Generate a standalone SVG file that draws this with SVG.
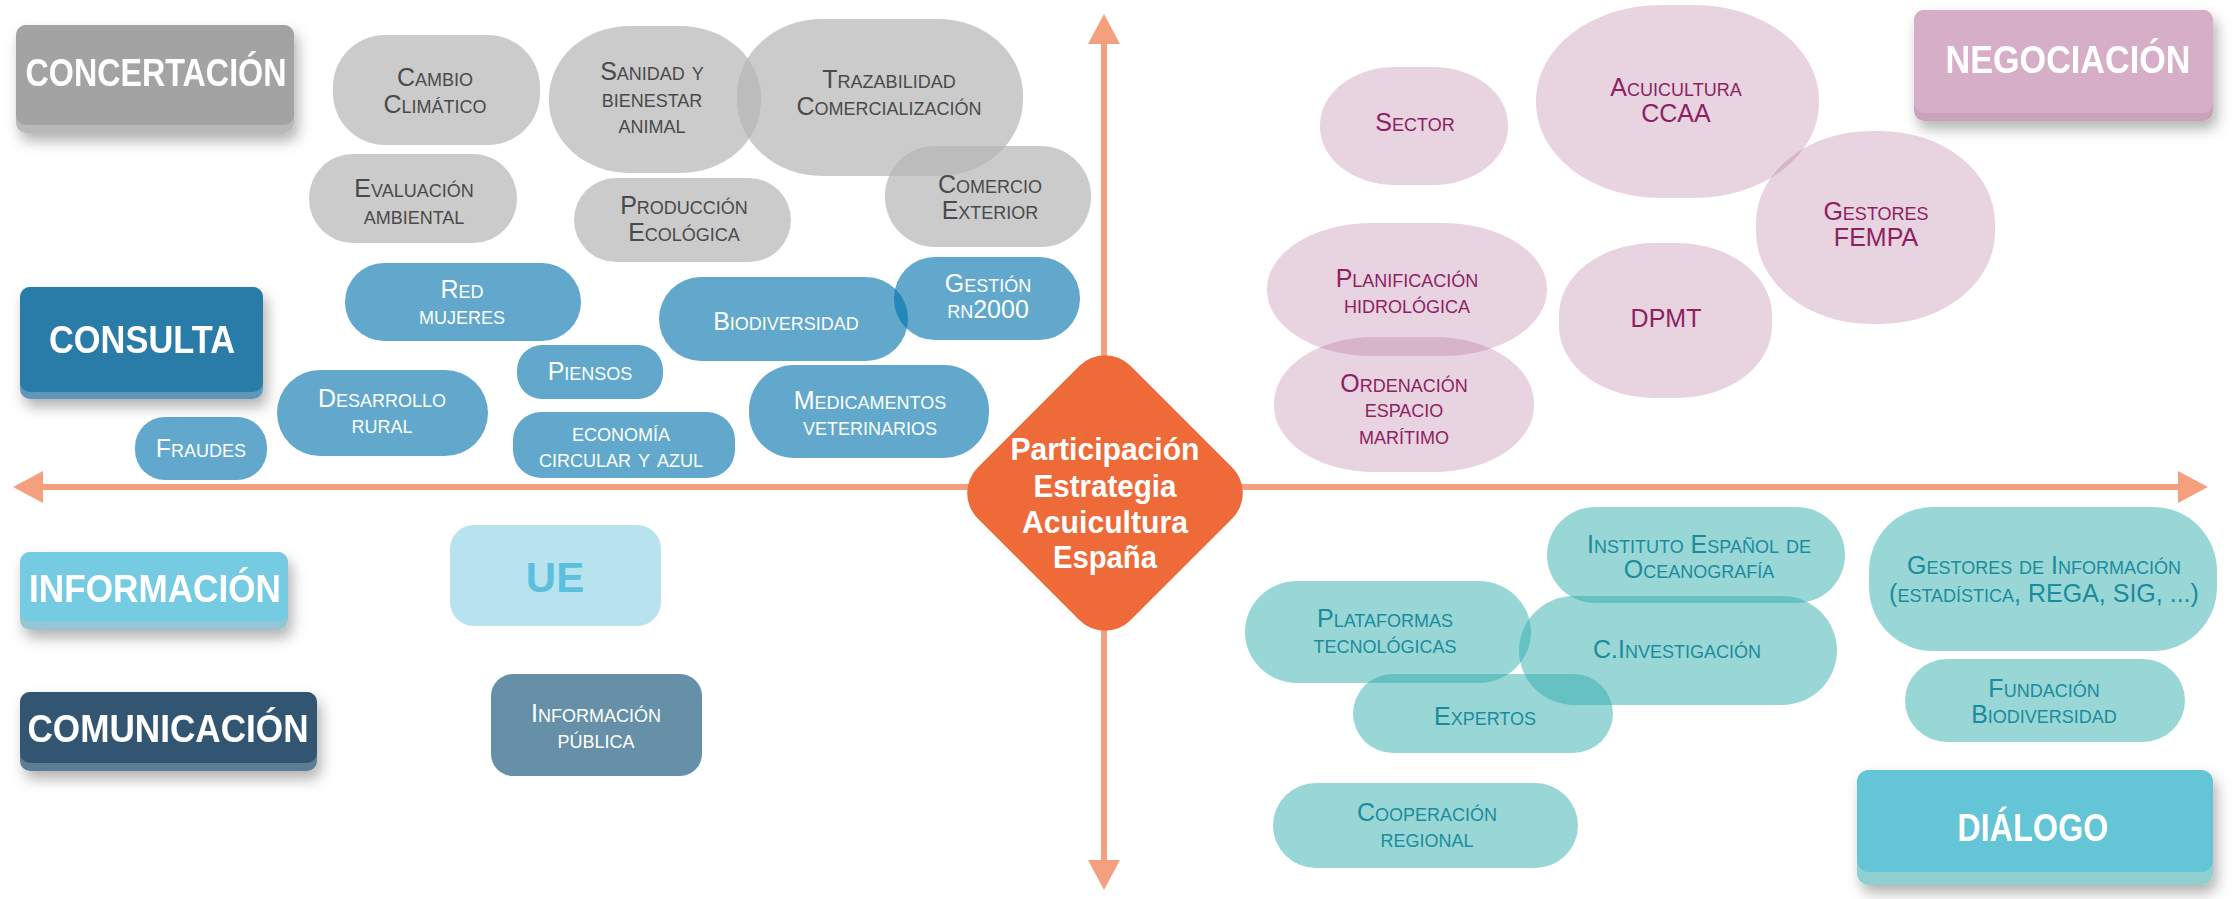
<svg xmlns="http://www.w3.org/2000/svg" width="2239" height="899" viewBox="0 0 2239 899">
<defs>
<style>
.n text{font-family:"Liberation Sans",Arial,sans-serif;font-size:25px;font-variant:small-caps;text-anchor:middle}
.gray rect{fill:#B5B5B5;fill-opacity:0.7}
.gray text{fill:#4A4A4A}
.blue rect{fill:#0073AD;fill-opacity:0.62}
.blue text{fill:#FFFFFF}
.pink rect{fill:#B26C98;fill-opacity:0.3}
.pink text{fill:#8E1F63}
.teal rect{fill:#33ADAD;fill-opacity:0.5}
.teal text{fill:#1A8C9D}
.cat text{font-family:"Liberation Sans",Arial,sans-serif;font-weight:bold;font-size:38px;fill:#FFFFFF;text-anchor:middle}
.cat{filter:url(#sh)}
.axis{stroke:#F4A07E;stroke-width:6;fill:none;marker-start:url(#ah);marker-end:url(#ah)}
.center text{font-family:"Liberation Sans",Arial,sans-serif;font-weight:bold;font-size:31px;fill:#FFFFFF;text-anchor:middle}
</style>
<marker id="ah" markerUnits="userSpaceOnUse" markerWidth="30" markerHeight="32" viewBox="0 0 30 32" refX="20" refY="16" orient="auto-start-reverse">
<path d="M0,0 L30,16 L0,32 Z" fill="#F4A07E"/>
</marker>
<filter id="sh" x="-20%" y="-30%" width="140%" height="170%">
<feDropShadow dx="4" dy="8" stdDeviation="7" flood-color="#000" flood-opacity="0.3"/>
</filter>
</defs>
<rect width="2239" height="899" fill="#FFFFFF"/>

<g id="connectors">
<path class="axis" d="M23,487 L2198,487"/>
<path class="axis" d="M1104,24 L1104,880"/>
</g>

<g id="center" class="center">
<rect x="997" y="385" width="216" height="216" rx="36" transform="rotate(45 1105 493)" fill="#EE6A38"/>
<text x="1105" y="460" textLength="189" lengthAdjust="spacingAndGlyphs">Participación</text>
<text x="1105" y="497" textLength="143" lengthAdjust="spacingAndGlyphs">Estrategia</text>
<text x="1105" y="533" textLength="166" lengthAdjust="spacingAndGlyphs">Acuicultura</text>
<text x="1105" y="568" textLength="104" lengthAdjust="spacingAndGlyphs">España</text>
</g>

<!-- categories -->
<g id="concertacion" class="cat">
<rect x="16" y="25" width="278" height="108" rx="10" fill="#B9B9B9"/>
<rect x="16" y="25" width="278" height="100" rx="10" fill="#A3A3A3"/>
<text x="156" y="86" textLength="261" lengthAdjust="spacingAndGlyphs">CONCERTACIÓN</text>
</g>
<g id="consulta" class="cat">
<rect x="20" y="287" width="243" height="112" rx="10" fill="#5E97B9"/>
<rect x="20" y="287" width="243" height="105" rx="10" fill="#2A7BA8"/>
<text x="142" y="353" textLength="186" lengthAdjust="spacingAndGlyphs">CONSULTA</text>
</g>
<g id="informacion" class="cat">
<rect x="20" y="552" width="268" height="78" rx="10" fill="#95C6D2"/>
<rect x="20" y="552" width="268" height="70" rx="10" fill="#74CCE2"/>
<text x="155" y="602" textLength="252" lengthAdjust="spacingAndGlyphs">INFORMACIÓN</text>
</g>
<g id="comunicacion" class="cat">
<rect x="20" y="692" width="297" height="79" rx="10" fill="#5C7D94"/>
<rect x="20" y="692" width="297" height="71" rx="10" fill="#325772"/>
<text x="168" y="742" textLength="281" lengthAdjust="spacingAndGlyphs">COMUNICACIÓN</text>
</g>
<g id="negociacion" class="cat">
<rect x="1914" y="10" width="299" height="111" rx="10" fill="#C9A3BB"/>
<rect x="1914" y="10" width="299" height="103" rx="10" fill="#D6AEC7"/>
<text x="2068" y="73" textLength="245" lengthAdjust="spacingAndGlyphs">NEGOCIACIÓN</text>
</g>
<g id="dialogo" class="cat">
<rect x="1857" y="770" width="356" height="115" rx="12" fill="#8FCFCF"/>
<rect x="1857" y="770" width="356" height="102" rx="12" fill="#63C5D5"/>
<text x="2033" y="841" textLength="151" lengthAdjust="spacingAndGlyphs">DIÁLOGO</text>
</g>

<!-- gray nodes -->
<g id="cambio" class="n gray"><rect x="333" y="35" width="207" height="110" rx="52"/><text x="435" y="86">Cambio</text><text x="435" y="113">Climático</text></g>
<g id="sanidad" class="n gray"><rect x="549" y="26" width="212" height="147" rx="80" ry="72"/><text x="652" y="80">Sanidad y</text><text x="652" y="107">bienestar</text><text x="652" y="133">animal</text></g>
<g id="trazabilidad" class="n gray"><rect x="737" y="19" width="286" height="157" rx="85" ry="76"/><text x="889" y="88">Trazabilidad</text><text x="889" y="115">Comercialización</text></g>
<g id="evaluacion" class="n gray"><rect x="309" y="154" width="208" height="89" rx="44"/><text x="414" y="197">Evaluación</text><text x="414" y="224">ambiental</text></g>
<g id="produccion" class="n gray"><rect x="574" y="178" width="217" height="84" rx="42"/><text x="684" y="214">Producción</text><text x="684" y="241">Ecológica</text></g>
<g id="comercio" class="n gray"><rect x="885" y="146" width="206" height="101" rx="50"/><text x="990" y="193">Comercio</text><text x="990" y="219">Exterior</text></g>

<!-- blue nodes -->
<g id="red" class="n blue"><rect x="345" y="263" width="236" height="78" rx="39"/><text x="462" y="298">Red</text><text x="462" y="324">mujeres</text></g>
<g id="biodiversidad" class="n blue"><rect x="659" y="277" width="249" height="84" rx="42"/><text x="786" y="330">Biodiversidad</text></g>
<g id="gestion" class="n blue"><rect x="894" y="257" width="186" height="83" rx="41"/><text x="988" y="292">Gestión</text><text x="988" y="318">rn2000</text></g>
<g id="piensos" class="n blue"><rect x="517" y="345" width="146" height="54" rx="25"/><text x="590" y="380">Piensos</text></g>
<g id="desarrollo" class="n blue"><rect x="277" y="370" width="211" height="86" rx="43"/><text x="382" y="407">Desarrollo</text><text x="382" y="433">rural</text></g>
<g id="fraudes" class="n blue"><rect x="135" y="417" width="132" height="63" rx="30"/><text x="201" y="457">Fraudes</text></g>
<g id="economia" class="n blue"><rect x="513" y="412" width="222" height="66" rx="28"/><text x="621" y="441">economía</text><text x="621" y="467">circular y azul</text></g>
<g id="medicamentos" class="n blue"><rect x="749" y="365" width="240" height="93" rx="45"/><text x="870" y="409">Medicamentos</text><text x="870" y="435">veterinarios</text></g>

<!-- information / communication nodes -->
<g id="ue"><rect x="450" y="525" width="211" height="101" rx="24" fill="#B7E2EE"/><text x="555" y="592" font-family="Liberation Sans, Arial, sans-serif" font-weight="bold" font-size="42" fill="#5BC0DE" text-anchor="middle">UE</text></g>
<g id="informacion-publica" class="n"><rect x="491" y="674" width="211" height="102" rx="22" fill="#6590A8"/><text x="596" y="722" fill="#FFFFFF">Información</text><text x="596" y="748" fill="#FFFFFF">pública</text></g>

<!-- pink nodes -->
<g id="sector" class="n pink"><rect x="1320" y="67" width="188" height="118" rx="75" ry="58"/><text x="1415" y="131">Sector</text></g>
<g id="acuicultura" class="n pink"><rect x="1536" y="5" width="283" height="193" rx="125" ry="95"/><text x="1676" y="96">Acuicultura</text><text x="1676" y="122">CCAA</text></g>
<g id="gestores-fempa" class="n pink"><rect x="1756" y="131" width="239" height="193" rx="115" ry="92"/><text x="1876" y="220">Gestores</text><text x="1876" y="246">FEMPA</text></g>
<g id="planificacion" class="n pink"><rect x="1267" y="223" width="280" height="133" rx="105" ry="66"/><text x="1407" y="287">Planificación</text><text x="1407" y="313">hidrológica</text></g>
<g id="ordenacion" class="n pink"><rect x="1274" y="337" width="260" height="135" rx="100" ry="66"/><text x="1404" y="392">Ordenación</text><text x="1404" y="417">espacio</text><text x="1404" y="444">marítimo</text></g>
<g id="dpmt" class="n pink"><rect x="1559" y="243" width="213" height="155" rx="95" ry="72"/><text x="1666" y="327">DPMT</text></g>

<!-- teal nodes -->
<g id="instituto" class="n teal"><rect x="1547" y="507" width="298" height="96" rx="48"/><text x="1699" y="553">Instituto Español de</text><text x="1699" y="578">Oceanografía</text></g>
<g id="gestores-info" class="n teal"><rect x="1869" y="507" width="348" height="144" rx="64"/><text x="2044" y="574">Gestores de Información</text><text x="2044" y="602">(estadística, REGA, SIG, ...)</text></g>
<g id="plataformas" class="n teal"><rect x="1245" y="581" width="286" height="102" rx="52"/><text x="1385" y="627">Plataformas</text><text x="1385" y="653">tecnológicas</text></g>
<g id="c-investigacion" class="n teal"><rect x="1519" y="596" width="318" height="109" rx="55"/><text x="1677" y="658">C.Investigación</text></g>
<g id="expertos" class="n teal"><rect x="1353" y="674" width="260" height="79" rx="40"/><text x="1485" y="725">Expertos</text></g>
<g id="fundacion" class="n teal"><rect x="1905" y="659" width="280" height="83" rx="42"/><text x="2044" y="697">Fundación</text><text x="2044" y="723">Biodiversidad</text></g>
<g id="cooperacion" class="n teal"><rect x="1273" y="783" width="305" height="85" rx="43"/><text x="1427" y="821">Cooperación</text><text x="1427" y="847">regional</text></g>
</svg>
